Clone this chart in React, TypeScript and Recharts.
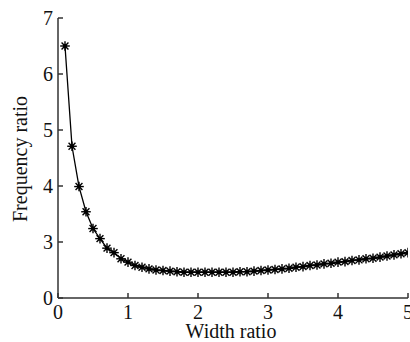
import React from "react";
import { LineChart, Line, XAxis, YAxis } from "recharts";

const widthRatio = [
  0.1, 0.2, 0.3, 0.4, 0.5, 0.6, 0.7, 0.8, 0.9, 1.0,
  1.1, 1.2, 1.3, 1.4, 1.5, 1.6, 1.7, 1.8, 1.9, 2.0,
  2.1, 2.2, 2.3, 2.4, 2.5, 2.6, 2.7, 2.8, 2.9, 3.0,
  3.1, 3.2, 3.3, 3.4, 3.5, 3.6, 3.7, 3.8, 3.9, 4.0,
  4.1, 4.2, 4.3, 4.4, 4.5, 4.6, 4.7, 4.8, 4.9, 5.0,
];
const frequencyRatio = [
  6.5, 4.71, 3.99, 3.54, 3.24, 3.06, 2.89, 2.81, 2.7, 2.64,
  2.58, 2.55, 2.52, 2.5, 2.49, 2.48, 2.47, 2.46, 2.46, 2.46,
  2.46, 2.46, 2.46, 2.46, 2.46, 2.47, 2.47, 2.48, 2.49, 2.5,
  2.51, 2.52, 2.53, 2.55, 2.56, 2.58, 2.59, 2.61, 2.62, 2.64,
  2.65, 2.67, 2.68, 2.7, 2.71, 2.73, 2.75, 2.77, 2.79, 2.81,
];
const xTicks = [0, 1, 2, 3, 4, 5];
const xTickLabels = ["0", "1", "2", "3", "4", "5"];
const yTicks = [2, 3, 4, 5, 6, 7];
const yTickLabels = ["0", "3", "4", "5", "6", "7"];

const data = widthRatio.map((w, i) => ({ w, f: frequencyRatio[i] }));

const FONT = "'Liberation Serif', 'Times New Roman', serif";
const AXIS_COLOR = "#333";

const XTick = (props: any) => {
  const { x, y, payload } = props;
  const idx = xTicks.indexOf(payload.value);
  return (
    <g>
      <line x1={x} x2={x} y1={y} y2={y - 5} stroke={AXIS_COLOR} strokeWidth={1.5} />
      <text x={x} y={y + 21} textAnchor="middle" fontFamily={FONT} fontSize={20} fill="#111">
        {idx >= 0 ? xTickLabels[idx] : payload.value}
      </text>
    </g>
  );
};

const YTick = (props: any) => {
  const { x, y, payload } = props;
  const idx = yTicks.indexOf(payload.value);
  return (
    <g>
      <line x1={x} x2={x + 5} y1={y} y2={y} stroke={AXIS_COLOR} strokeWidth={1.5} />
      <text x={x - 5} y={y} dy="0.35em" textAnchor="end" fontFamily={FONT} fontSize={20} fill="#111">
        {idx >= 0 ? yTickLabels[idx] : payload.value}
      </text>
    </g>
  );
};

const Asterisk = (props: any) => {
  const { cx, cy, index } = props;
  if (cx == null || cy == null) return <g key={`d-${index}`} />;
  const r = 4.8;
  const d = r * 0.72;
  return (
    <g key={`d-${index}`} stroke="#000" strokeWidth={1.4}>
      <line x1={cx - r} x2={cx + r} y1={cy} y2={cy} />
      <line x1={cx} x2={cx} y1={cy - r} y2={cy + r} />
      <line x1={cx - d} x2={cx + d} y1={cy - d} y2={cy + d} />
      <line x1={cx - d} x2={cx + d} y1={cy + d} y2={cy - d} />
      <circle cx={cx} cy={cy} r={2} fill="#000" stroke="none" />
    </g>
  );
};

export default function App() {
  return (
    <div style={{ position: "absolute", left: 0, top: 0, width: 410, height: 342, background: "#fff" }}>
      <LineChart
        width={410}
        height={342}
        data={data}
        margin={{ top: 18, right: 2, left: 0, bottom: 0 }}
      >
        <XAxis
          dataKey="w"
          type="number"
          domain={[0, 5]}
          ticks={xTicks}
          allowDataOverflow
          height={44}
          tickSize={0}
          tickMargin={0}
          tickLine={false}
          axisLine={{ stroke: AXIS_COLOR, strokeWidth: 1.5 }}
          tick={<XTick />}
          interval={0}
        />
        <YAxis
          type="number"
          domain={[2, 7]}
          ticks={yTicks}
          allowDataOverflow
          width={58}
          tickSize={0}
          tickMargin={0}
          tickLine={false}
          axisLine={{ stroke: AXIS_COLOR, strokeWidth: 1.5 }}
          tick={<YTick />}
          interval={0}
        />
        <Line
          dataKey="f"
          type="linear"
          stroke="#000"
          strokeWidth={1.3}
          dot={(p: any) => <Asterisk key={`d-${p.index}`} {...p} />}
          isAnimationActive={false}
        />
        <text
          x={27}
          y={159}
          transform="rotate(-90, 27, 159)"
          textAnchor="middle"
          fontFamily={FONT}
          fontSize={20}
          fill="#111"
        >
          Frequency ratio
        </text>
        <text x={231} y={338} textAnchor="middle" fontFamily={FONT} fontSize={20} fill="#111">
          Width ratio
        </text>
      </LineChart>
    </div>
  );
}
